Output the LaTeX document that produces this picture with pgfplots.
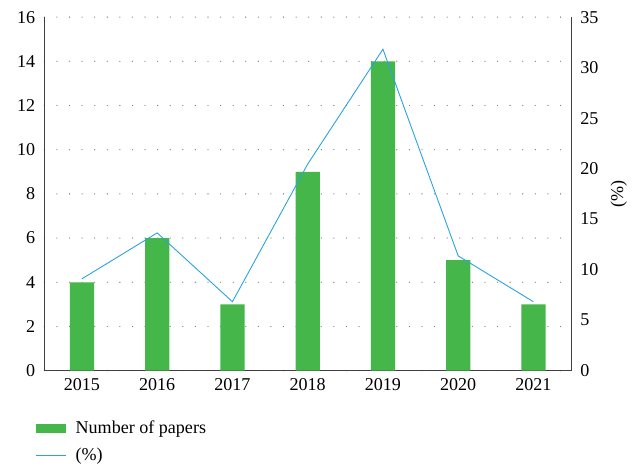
\documentclass[border=0pt]{standalone}
\usepackage{pgfplots}
\pgfplotsset{compat=1.18}
\usepackage{fontspec}
\setmainfont{Liberation Serif}
\definecolor{bargreen}{HTML}{45B649}
\definecolor{lineblue}{HTML}{2AA3DF}
\definecolor{axgray}{HTML}{404040}
\begin{document}
\fontsize{18}{21}\selectfont
\begin{tikzpicture}
\pgfplotsset{
  common/.style={
    scale only axis, width=523bp, height=351bp,
    xmin=-0.5, xmax=6.5,
    xtick={0,1,2,3,4,5,6},
    major tick length=0pt,
    /pgf/number format/assume math mode=true,
    tick label style={font=\fontsize{18}{21}\selectfont},
    label style={font=\fontsize{18}{21}\selectfont},
    axis line style={axgray, line width=0.9pt},
  },
  mybar/.style={legend image code/.code={\fill[bargreen] (0bp,-4.5bp) rectangle (29bp,4.5bp); \path[draw=none,fill=none] (0bp,0bp) -- (37bp,0bp);}},
  myline/.style={legend image code/.code={\draw[lineblue, line width=0.9pt] (0bp,0bp) -- (29bp,0bp); \path[draw=none,fill=none] (0bp,0bp) -- (37bp,0bp);}},
}
\begin{axis}[common,
  axis y line*=left, axis x line*=bottom,
  ymin=0, ymax=16, ytick={0,2,...,16},
  xticklabels={2015,2016,2017,2018,2019,2020,2021},
  yticklabel style={xshift=-3bp},
  xticklabel style={yshift=-2bp},
  ymajorgrids,
  grid style={color=gray, line width=1.3bp, dash pattern=on 0bp off 12.5bp, line cap=round},
  legend style={draw=none, fill=none, at={(rel axis cs:-0.022,-0.13)}, anchor=north west,
    font=\fontsize{18}{21}\selectfont, row sep=8bp, legend cell align=left},
]
\addplot[ybar, bar width=24bp, fill=bargreen, draw=none, bar shift=0pt, mybar]
  coordinates {(0,4) (1,6) (2,3) (3,9) (4,14) (5,5) (6,3)};
\addlegendentry{Number of papers}
\addlegendimage{myline}
\addlegendentry{(\%)}
\end{axis}
\begin{axis}[common,
  axis y line*=right, axis x line=none,
  ymin=0, ymax=35, ytick={0,5,...,35},
  yticklabel style={xshift=3bp},
  ylabel={(\%)},
]
\addplot[lineblue, line width=0.9pt, mark=none]
  coordinates {(0,9.09) (1,13.64) (2,6.82) (3,20.45) (4,31.82) (5,11.36) (6,6.82)};
\end{axis}
\path (current axis.north west) ++(-44bp,17bp);
\end{tikzpicture}
\end{document}
